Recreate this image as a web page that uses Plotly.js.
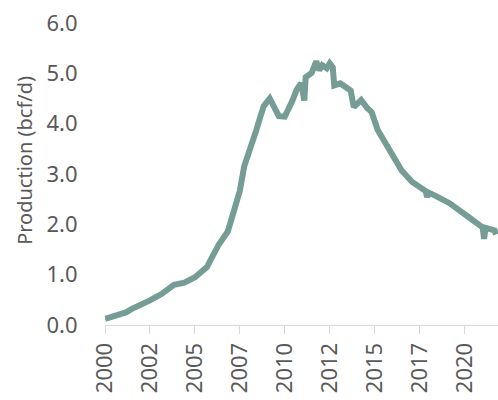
<!DOCTYPE html>
<html>
<head>
<meta charset="utf-8">
<script src="https://cdn.plot.ly/plotly-3.0.1.min.js"></script>
<style>html,body{margin:0;padding:0;background:#fff;}#chart{width:498px;height:400px;}</style>
</head>
<body>
<div id="chart"></div>
<script>
const dates = ["2000-01-01","2000-06-01","2000-11-01","2001-03-01","2001-07-01","2002-01-01","2002-07-01","2003-03-01","2003-11-01","2004-06-01","2005-01-01","2005-09-01","2006-03-01","2006-05-01","2006-11-01","2007-02-01","2007-07-01","2007-10-01","2008-03-01","2008-06-01","2008-09-01","2008-11-01","2009-03-01","2009-06-01","2009-09-01","2010-01-01","2010-04-01","2010-06-01","2010-09-01","2010-12-01","2011-02-01","2011-03-01","2011-07-01","2011-10-01","2011-12-01","2012-02-01","2012-05-01","2012-07-01","2012-09-01","2012-10-01","2013-02-01","2013-05-01","2013-09-01","2013-11-01","2014-04-01","2014-08-01","2014-11-01","2015-03-01","2015-11-01","2016-07-01","2017-02-01","2017-11-01","2017-12-01","2018-01-01","2018-06-01","2019-03-01","2020-02-01","2020-09-01","2021-01-01","2021-02-01","2021-03-01","2021-09-01","2021-10-01"];
const production = [0.12,0.16,0.22,0.25,0.32,0.40,0.49,0.62,0.80,0.84,0.95,1.15,1.47,1.60,1.86,2.16,2.66,3.16,3.57,3.87,4.17,4.35,4.50,4.32,4.15,4.14,4.30,4.45,4.68,4.80,4.46,4.92,5.01,5.24,5.06,5.16,5.10,5.20,5.12,4.76,4.80,4.73,4.66,4.33,4.47,4.31,4.23,3.88,3.49,3.07,2.84,2.66,2.54,2.63,2.56,2.42,2.18,2.03,1.94,1.71,1.93,1.88,1.80];
const tickDates = ["2000-01-01","2002-07-01","2005-01-01","2007-07-01","2010-01-01","2012-07-01","2015-01-01","2017-07-01","2020-01-01"];
const tickLabels = ["2000","2002","2005","2007","2010","2012","2015","2017","2020"];
const yTicks = [0,1,2,3,4,5,6];
const yLabels = ["0.0","1.0","2.0","3.0","4.0","5.0","6.0"];

const font = {family: "'Source Sans Pro', 'Noto Sans', sans-serif", size: 20, color: "#595959"};
const tickFont = {family: "'Source Sans Pro', 'Noto Sans', sans-serif", size: 22, color: "#595959"};

Plotly.newPlot("chart", [{
  x: dates, y: production, type: "scatter", mode: "lines",
  line: {color: "#759c95", width: 6, shape: "linear"},
  hoverinfo: "skip"
}], {
  width: 498, height: 400,
  margin: {l: 105, r: 0, t: 23, b: 75, pad: 0},
  paper_bgcolor: "#fff", plot_bgcolor: "#fff",
  showlegend: false,
  font: font,
  xaxis: {
    type: "date", range: ["2000-01-01", "2021-11-10"],
    tickmode: "array", tickvals: tickDates, ticktext: tickLabels,
    tickangle: -90, ticks: "outside", ticklen: 8, tickcolor: "#d9d9d9", tickwidth: 1,
    showline: true, linecolor: "#d9d9d9", linewidth: 1,
    showgrid: false, zeroline: false, tickfont: tickFont, automargin: false
  },
  yaxis: {
    range: [0, 6], tickmode: "array", tickvals: yTicks, ticktext: yLabels,
    ticks: "outside", ticklen: 22, tickcolor: "rgba(0,0,0,0)",
    showline: false, showgrid: false, zeroline: false, tickfont: tickFont, automargin: false
  },
  annotations: [{
    text: "Production (bcf/d)", xref: "paper", yref: "paper",
    x: -0.205, y: 0.545, xanchor: "center", yanchor: "middle",
    textangle: -90, showarrow: false, font: font
  }]
}, {staticPlot: true, displayModeBar: false});
</script>
</body>
</html>
